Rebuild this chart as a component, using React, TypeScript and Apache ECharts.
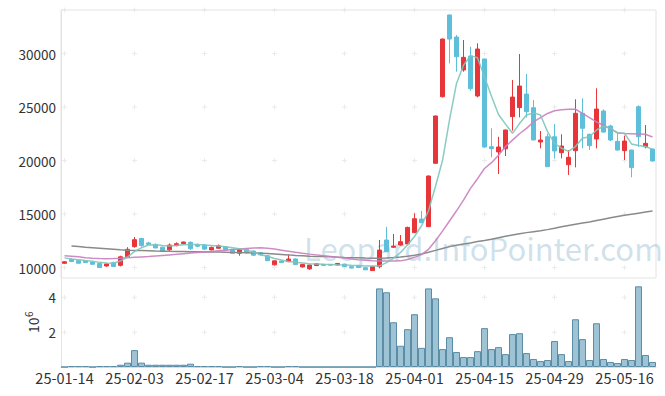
import React, { useEffect, useRef } from 'react';
import * as echarts from 'echarts';

const dates: string[] = [
  '25-01-14', '25-01-15', '25-01-16', '25-01-17', '25-01-20', '25-01-21', '25-01-22', '25-01-23', '25-01-24', '25-01-31',
  '25-02-03', '25-02-04', '25-02-05', '25-02-06', '25-02-07', '25-02-10', '25-02-11', '25-02-12', '25-02-13', '25-02-14',
  '25-02-17', '25-02-18', '25-02-19', '25-02-20', '25-02-21', '25-02-24', '25-02-25', '25-02-26', '25-02-27', '25-02-28',
  '25-03-04', '25-03-05', '25-03-06', '25-03-07', '25-03-10', '25-03-11', '25-03-12', '25-03-13', '25-03-14', '25-03-17',
  '25-03-18', '25-03-19', '25-03-20', '25-03-21', '25-03-24', '25-03-25', '25-03-26', '25-03-27', '25-03-28', '25-03-31',
  '25-04-01', '25-04-02', '25-04-03', '25-04-04', '25-04-07', '25-04-08', '25-04-09', '25-04-10', '25-04-11', '25-04-14',
  '25-04-15', '25-04-16', '25-04-17', '25-04-18', '25-04-21', '25-04-22', '25-04-23', '25-04-24', '25-04-25', '25-04-28',
  '25-04-29', '25-04-30', '25-05-02', '25-05-07', '25-05-08', '25-05-09', '25-05-12', '25-05-13', '25-05-14', '25-05-15',
  '25-05-16', '25-05-19', '25-05-20', '25-05-21', '25-05-22',
];

// [open, close, low, high]
const candles: number[][] = [
  [10390, 10540, 10350, 10580], [10760, 10560, 10500, 10850], [10640, 10400, 10380, 10680], [10600, 10460, 10420, 10700],
  [10510, 10300, 10280, 10560], [10380, 10000, 9980, 10400], [10140, 10330, 10080, 10380], [10450, 10100, 10060, 10550],
  [10200, 11000, 10100, 11100], [11010, 11700, 10900, 11900], [11950, 12600, 11850, 12850], [12720, 12050, 11950, 12760],
  [12300, 12170, 12100, 12400], [12160, 11830, 11800, 12250], [11900, 11500, 11480, 11950], [11650, 12100, 11500, 12250],
  [12050, 12220, 11980, 12350], [12230, 12380, 12180, 12420], [12350, 11750, 11650, 12450], [12100, 11990, 11900, 12250],
  [12100, 11720, 11650, 12200], [11640, 11880, 11600, 11960], [11800, 12030, 11750, 12150], [11940, 11650, 11600, 11980],
  [11700, 11330, 11300, 11720], [11330, 11700, 11100, 11750], [11700, 11380, 11300, 11800], [11540, 11150, 11100, 11600],
  [11390, 11180, 11120, 11450], [11100, 10640, 10600, 11150], [10250, 10620, 10200, 10650], [10600, 10460, 10430, 10650],
  [10550, 10790, 10500, 11230], [10800, 10270, 10250, 10860], [10050, 10290, 10000, 10330], [9870, 10230, 9800, 10260],
  [10180, 10350, 10150, 10400], [10290, 10200, 10150, 10330], [10280, 10220, 10180, 10320], [10240, 10380, 10200, 10410],
  [10320, 10090, 10050, 10350], [10080, 9950, 9920, 10100], [10150, 10000, 9950, 10250], [9980, 9780, 9760, 10000],
  [9710, 10070, 9700, 10100], [10080, 11630, 9920, 12570], [12570, 11480, 11450, 13800], [11890, 12000, 11840, 13130],
  [12100, 12410, 12040, 13040], [12200, 13750, 12150, 13820], [13260, 14560, 13220, 15060], [14530, 14190, 14150, 15280],
  [13820, 18550, 13800, 18600], [19740, 24160, 19700, 24200], [25960, 31350, 25900, 31400], [33600, 31350, 29080, 33650],
  [31540, 29700, 28300, 31730], [28460, 29640, 28300, 31260], [29760, 26710, 26520, 30630], [26030, 30420, 25900, 30950],
  [29490, 21260, 21200, 29500], [21290, 21110, 20300, 23010], [20800, 21260, 18740, 22220], [21100, 22850, 20420, 22880],
  [24100, 25930, 22790, 27520], [24940, 26960, 24030, 29950], [26210, 24560, 24030, 28080], [24930, 21920, 21900, 25650],
  [21730, 21915, 21140, 22760], [22220, 19420, 19400, 22500], [22220, 20890, 20200, 23410], [20730, 21350, 20200, 22450],
  [19610, 20300, 18650, 20980], [20920, 24410, 19360, 25720], [24410, 23010, 21140, 25810], [22450, 21390, 20980, 22500],
  [22010, 24810, 21140, 26750], [24625, 22660, 22600, 24780], [23225, 21915, 21820, 23350], [21790, 20980, 20920, 22540],
  [20920, 21820, 20050, 22320], [20980, 19330, 18430, 21000], [25030, 22220, 21290, 25155], [21290, 21605, 21140, 23315],
  [21070, 19950, 19900, 21100],
];

const ma5: number[] = [
  10900, 10800, 10730, 10650, 10580, 10480, 10420, 10400, 10600, 11000,
  11480, 11850, 12100, 12120, 12050, 12000, 12050, 12120, 12150, 12160,
  12100, 12050, 12000, 11950, 11850, 11750, 11636, 11420, 11200, 11050,
  10850, 10700, 10560, 10480, 10420, 10360, 10330, 10300, 10280, 10250,
  10230, 10200, 10180, 10150, 10130, 10150, 10450, 10850, 11400, 12100,
  12900, 13900, 15300, 17600, 20000, 23800, 27200, 28900, 29800, 29600,
  27800, 26000, 24300, 23400, 22540, 23450, 24250, 24450, 24250, 22700,
  21600, 21150, 20850, 21300, 22100, 22200, 22850, 23200, 23000, 22550,
  22550, 21550, 21400, 21300, 21050,
];

const ma20: number[] = [
  11100, 11050, 11000, 10920, 10870, 10840, 10820, 10830, 10860, 10900,
  10950, 10990, 11030, 11080, 11130, 11180, 11230, 11290, 11350, 11400,
  11450, 11500, 11560, 11620, 11680, 11730, 11780, 11830, 11840, 11800,
  11720, 11620, 11520, 11420, 11330, 11250, 11180, 11100, 11030, 10960,
  10880, 10800, 10730, 10680, 10630, 10600, 10600, 10600, 10620, 10750,
  10950, 11200, 11700, 12500, 13400, 14350, 15300, 16300, 17400, 18300,
  19250, 19800, 20500, 21300, 21900, 22500, 23000, 23600, 24000, 24400,
  24650, 24750, 24780, 24790, 24400, 24000, 23600, 23300, 22950, 22600,
  22520, 22500, 22480, 22450, 22200,
];

const ma60: (number | null)[] = [
  null, 12010, 11960, 11900, 11850, 11800, 11750, 11700, 11650, 11620,
  11600, 11580, 11560, 11540, 11530, 11510, 11500, 11490, 11480, 11470,
  11460, 11450, 11440, 11430, 11410, 11400, 11380, 11360, 11340, 11300,
  11260, 11220, 11180, 11120, 11090, 11060, 11040, 11020, 11000, 10970,
  10940, 10920, 10900, 10880, 10870, 10860, 10880, 10930, 10990, 11060,
  11150, 11270, 11420, 11600, 11780, 11950, 12080, 12200, 12300, 12420,
  12520, 12650, 12790, 12920, 13040, 13150, 13260, 13350, 13440, 13540,
  13660, 13800, 13920, 14040, 14150, 14250, 14400, 14520, 14640, 14760,
  14880, 14980, 15080, 15180, 15280,
];

// volume in millions of shares
const volumeM: number[] = [
  0, 0.05, 0.05, 0.05, 0, 0.05, 0.05, 0.05, 0.13, 0.25,
  0.97, 0.25, 0.13, 0.13, 0.13, 0.13, 0.13, 0.13, 0.19, 0.05,
  0.05, 0.05, 0.05, 0, 0, 0.05, 0, 0, 0.05, 0.05,
  0, 0, 0.05, 0.05, 0, 0, 0, 0, 0, 0,
  0, 0, 0, 0, 0, 4.51, 4.29, 2.57, 1.22, 2.17,
  3.03, 1.10, 4.51, 3.94, 1.03, 1.71, 0.86, 0.57, 0.57, 0.91,
  2.23, 1.03, 1.14, 0.74, 1.89, 1.94, 0.80, 0.46, 0.34, 0.40,
  1.49, 0.74, 0.34, 2.74, 1.60, 0.40, 2.51, 0.46, 0.29, 0.23,
  0.46, 0.40, 4.63, 0.69, 0.29,
];

const priceTicks: number[] = [10000, 15000, 20000, 25000, 30000];
const volumeTicks: number[] = [2, 4];
const markerCategoryIdx: number[] = [0, 10, 20, 30, 40, 50, 60, 70, 80];

const PRICE_MIN = 9019;
const PRICE_MAX = 34066;
const VOL_MAX = 5.05;

const FONT = "'Noto Sans CJK KR', 'Noto Sans', sans-serif";

export default function App() {
  const ref = useRef<HTMLDivElement>(null);

  useEffect(() => {
    if (!ref.current) return;
    const chart = echarts.init(ref.current, undefined, { renderer: 'svg' });

    const priceMarkers: number[][] = [];
    markerCategoryIdx.forEach((i) => {
      priceTicks.concat([PRICE_MAX]).forEach((v) => priceMarkers.push([i, v]));
    });
    const volMarkers: number[][] = [];
    markerCategoryIdx.forEach((i) => {
      volumeTicks.forEach((v) => volMarkers.push([i, v]));
    });

    const crossSymbol = 'path://M2,0H3V5H2Z M0,2H5V3H0Z';

    chart.setOption({
      animation: false,
      textStyle: { fontFamily: FONT },
      grid: [
        { left: 61, right: 9, top: 10, height: 268, show: true, borderColor: '#e3e3e3', borderWidth: 1, backgroundColor: 'transparent' },
        { left: 61, right: 9, top: 279, height: 88 },
      ],
      xAxis: [
        {
          type: 'category', gridIndex: 0, data: dates, boundaryGap: true,
          axisLine: { show: false }, axisTick: { show: false }, axisLabel: { show: false }, splitLine: { show: false },
        },
        {
          type: 'category', gridIndex: 1, data: dates, boundaryGap: true,
          axisLine: { show: true, lineStyle: { color: '#dedede' } }, axisTick: { show: false },
          axisLabel: { interval: 9, margin: 3, color: '#333', fontSize: 14.5, fontFamily: FONT },
          splitLine: { show: false },
        },
      ],
      yAxis: [
        {
          type: 'value', gridIndex: 0, min: PRICE_MIN, max: PRICE_MAX, splitNumber: 6,
          axisLine: { show: true, lineStyle: { color: '#e3e3e3' } }, axisTick: { show: false }, splitLine: { show: false },
          axisLabel: {
            showMinLabel: false, showMaxLabel: false, margin: 5, color: '#333', fontSize: 13.5, fontFamily: FONT,
            formatter: (v: number) => (v % 5000 === 0 ? String(v) : ''),
          },
        },
        {
          type: 'value', gridIndex: 1, min: 0, max: VOL_MAX, interval: 2,
          axisLine: { show: true, lineStyle: { color: '#e3e3e3' } }, axisTick: { show: false }, splitLine: { show: false },
          axisLabel: { showMinLabel: false, showMaxLabel: false, margin: 5, color: '#333', fontSize: 13.5, fontFamily: FONT },
        },
      ],
      graphic: [
        {
          type: 'text', left: 304, top: 232, z: 0, silent: true,
          style: { text: 'Leopard.InfoPointer.com', font: `31px ${FONT}`, fill: 'rgba(120,170,200,0.36)' },
        },
        {
          type: 'group', x: 37, y: 333, rotation: Math.PI / 2, silent: true,
          children: [
            { type: 'text', x: 0, y: -4.5, style: { text: '10', font: `14px ${FONT}`, fill: '#333', align: 'left', verticalAlign: 'middle' } },
            { type: 'text', x: 16, y: -9, style: { text: '6', font: `10px ${FONT}`, fill: '#333', align: 'left', verticalAlign: 'middle' } },
          ],
        },
      ],
      series: [
        {
          type: 'scatter', xAxisIndex: 0, yAxisIndex: 0, data: priceMarkers, symbol: crossSymbol, symbolSize: 5,
          itemStyle: { color: '#e6e6e6' }, silent: true, clip: false, z: 1,
        },
        {
          type: 'scatter', xAxisIndex: 1, yAxisIndex: 1, data: volMarkers, symbol: crossSymbol, symbolSize: 5,
          itemStyle: { color: '#e6e6e6' }, silent: true, clip: false, z: 1,
        },
        {
          type: 'candlestick', xAxisIndex: 0, yAxisIndex: 0, data: candles, barWidth: 4,
          itemStyle: { color: '#e8353a', color0: '#5ebfdb', borderColor: '#e8353a', borderColor0: '#5ebfdb', borderWidth: 1 },
        },
        {
          type: 'line', xAxisIndex: 0, yAxisIndex: 0, data: ma60, showSymbol: false, symbol: 'none',
          lineStyle: { color: '#8a8a8a', width: 1.5 },
        },
        {
          type: 'line', xAxisIndex: 0, yAxisIndex: 0, data: ma20, showSymbol: false, symbol: 'none',
          lineStyle: { color: '#c97fbf', width: 1.5, opacity: 0.9 },
        },
        {
          type: 'line', xAxisIndex: 0, yAxisIndex: 0, data: ma5, showSymbol: false, symbol: 'none',
          lineStyle: { color: '#7cc6ba', width: 1.5, opacity: 0.9 },
        },
        {
          type: 'bar', xAxisIndex: 1, yAxisIndex: 1, data: volumeM, barWidth: 7,
          itemStyle: { color: '#9dc3d4', borderColor: '#5b8da6', borderWidth: 1 },
        },
      ],
    });

    return () => chart.dispose();
  }, []);

  return <div ref={ref} style={{ position: 'absolute', left: 0, top: 0, width: 665, height: 396 }} />;
}
